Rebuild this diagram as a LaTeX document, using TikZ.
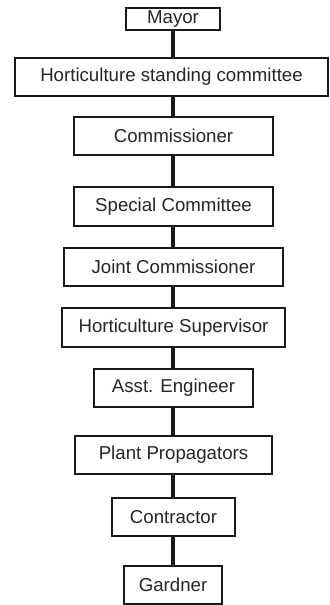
\documentclass[tikz,border=0pt]{standalone}
\usepackage{fontspec}
\setmainfont{Liberation Sans}
\begin{document}
\begin{tikzpicture}[x=0.75pt,y=-0.75pt,
  post/.style={draw=black!90, line width=1.5pt, fill=white, inner sep=0pt,
    font=\fontsize{14}{16}\selectfont, text=black!85},
  link/.style={draw=black!90, line width=2.4pt}]
\useasboundingbox (0,0) rectangle (329,605);
% posts, top to bottom, sized as minimum width/height (outer size minus border)
\node[post, minimum width=94*0.75pt, minimum height=22*0.75pt] (mayor) at (173,19) {Mayor};
\node[post, minimum width=313*0.75pt, minimum height=38*0.75pt] (hsc) at (171.5,77) {Horticulture standing committee};
\node[post, minimum width=199*0.75pt, minimum height=38*0.75pt] (comm) at (173.5,136) {Commissioner};
\node[post, minimum width=199*0.75pt, minimum height=39*0.75pt] (spc) at (173.5,206.5) {Special Committee};
\node[post, minimum width=219*0.75pt, minimum height=38*0.75pt] (jc) at (173.5,267) {Joint Commissioner};
\node[post, minimum width=223*0.75pt, minimum height=39*0.75pt] (hs) at (173.5,327.5) {Horticulture Supervisor};
\node[post, minimum width=159*0.75pt, minimum height=38*0.75pt] (ae) at (173.5,388) {Asst. Engineer};
\node[post, minimum width=197*0.75pt, minimum height=38*0.75pt] (pp) at (173.5,455) {Plant Propagators};
\node[post, minimum width=123*0.75pt, minimum height=38*0.75pt] (ctr) at (173.5,517) {Contractor};
\node[post, minimum width=98*0.75pt, minimum height=38*0.75pt] (gard) at (173,585) {Gardner};
% vertical links between consecutive posts
\begin{scope}[on background layer/.try]
\foreach \a/\b in {mayor/hsc,hsc/comm,comm/spc,spc/jc,jc/hs,hs/ae,ae/pp,pp/ctr,ctr/gard}
  \draw[link] (\a.south -| 173,0) -- (\b.north -| 173,0);
\end{scope}
\end{tikzpicture}
\end{document}
